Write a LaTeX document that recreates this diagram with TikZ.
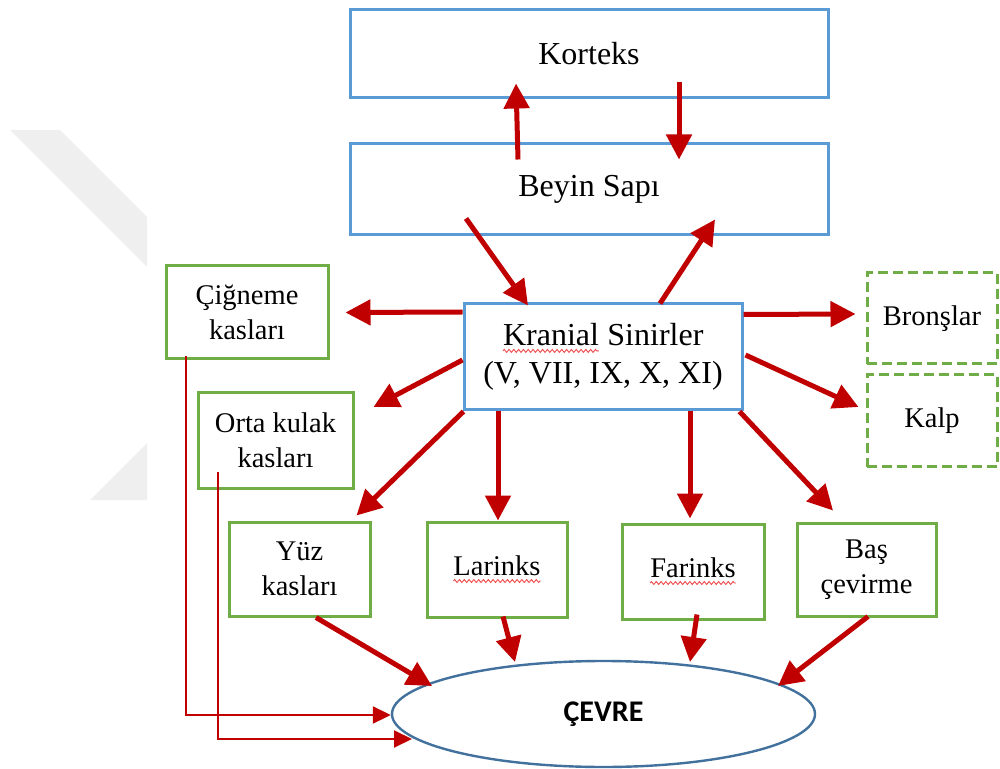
\documentclass[tikz,border=0pt]{standalone}
\usepackage{fontspec}
\setmainfont{Liberation Serif}
\newfontfamily\calibrifont{Carlito}
\usetikzlibrary{arrows.meta,calc,decorations.pathmorphing,shapes.geometric}
\definecolor{boxblue}{HTML}{5B9BD5}
\definecolor{boxgreen}{HTML}{70AD47}
\definecolor{arrred}{HTML}{C00000}
\definecolor{ellblue}{HTML}{41719C}
\definecolor{wmgray}{HTML}{EFEFEF}
\definecolor{spellred}{HTML}{F04A4A}
\newcommand\spellwave[1]{\tikz[baseline=(sw.base)]{\node[inner sep=0pt,outer sep=0pt,minimum width=0pt,minimum height=0pt,draw=none,fill=none](sw){#1};\draw[draw=spellred,solid,line width=0.45pt,decorate,decoration={zigzag,amplitude=0.75pt,segment length=2.4pt}]([yshift=-2.6pt]sw.base west)--([yshift=-2.6pt]sw.base east);}}
\begin{document}
\begin{tikzpicture}[x=0.5pt,y=-0.5pt,
 bluebox/.style={draw=boxblue,line width=1.5pt,fill=white,font=\fontsize{16}{19}\selectfont,align=center,inner sep=0pt},
 greenbox/.style={draw=boxgreen,line width=1.5pt,fill=white,font=\fontsize{14.25}{17.5}\selectfont,align=center,inner sep=0pt},
 dashbox/.style={greenbox,dash pattern=on 5pt off 2.5pt},
 bigarrow/.style={draw=arrred,line width=2.5pt,-{Triangle[length=12.5pt,width=12.5pt]}},
 thinarrow/.style={draw=arrred,line width=1pt,-{Triangle[length=9pt,width=8.5pt]}},
 watermark/.style={fill=wmgray,draw=none}
]
\useasboundingbox (0,0) rectangle (1000,769);
% watermark
\fill[watermark] (10,130) -- (60,130) -- (147,217) -- (147,267) -- cycle;
\fill[watermark] (90,500) -- (147,500) -- (147,443) -- cycle;

% nodes
\node[bluebox,minimum width=239pt,minimum height=44pt] (kor) at (589,54) {Korteks};
\node[bluebox,minimum width=239pt,minimum height=45.5pt] (bey) at (589,189.5) {Beyin Sapı};
\node[bluebox,minimum width=139pt,minimum height=53pt] (kra) at (603,357) {\spellwave{Kranial} Sinirler\\(V, VII, IX, X, XI)};
\node[greenbox,minimum width=81pt,minimum height=46.5pt] (cig) at (247,312.5) {Çiğneme\\kasları};
\node[greenbox,minimum width=77.5pt,minimum height=47.5pt] (ort) at (275.5,440.5) {Orta kulak\\kasları};
\node[greenbox,minimum width=70.5pt,minimum height=47pt] (yuz) at (299.5,569) {Yüz\\kasları};
\node[greenbox,minimum width=70pt,minimum height=47.5pt] (lar) at (497,569.5) {\spellwave{Larinks}};
\node[greenbox,minimum width=71pt,minimum height=47.5pt] (far) at (693,571.5) {\spellwave{Farinks}};
\node[greenbox,minimum width=69.5pt,minimum height=46.5pt] (bas) at (866.5,569.5) {Baş\\çevirme};
\node[dashbox,minimum width=65pt,minimum height=45.5pt] (bro) at (932,318.5) {Bronşlar};
\node[dashbox,minimum width=65pt,minimum height=46pt] (kal) at (932,421) {Kalp};
\node[ellipse,draw=ellblue,line width=1.2pt,fill=white,minimum width=211.5pt,minimum height=53pt,inner sep=0pt,font=\calibrifont\bfseries\fontsize{15}{18}\selectfont] (cev) at (603.5,714) {ÇEVRE};

% connectors
\draw[bigarrow] ($(bey.north)+(-71,17)$) -- ($(kor.south)+(-73,-16)$);
\draw[bigarrow] ($(kor.south)+(90,-17)$) -- ($(bey.north)+(90,17)$);
\draw[bigarrow] ($(bey.south)+(-123,-18)$) -- ($(kra.north)+(-75,3)$);
\draw[bigarrow] ($(kra.north)+(57,1)$) -- ($(bey.south)+(126,-17)$);
\draw[bigarrow] ($(kra.west)+(0,-45)$) -- ($(cig.east)+(16,0)$);
\draw[bigarrow] ($(kra.west)+(0,3)$) -- ($(ort.east)+(19,-33.5)$);
\draw[bigarrow] ($(kra.south west)+(1,0)$) -- ($(yuz.north east)+(-15,-5)$);
\draw[bigarrow] ($(kra.south)+(-105,0)$) -- ($(lar.north)+(1,0)$);
\draw[bigarrow] ($(kra.south)+(87,0)$) -- ($(far.north)+(-3,-4)$);
\draw[bigarrow] ($(kra.south east)+(-4,0)$) -- ($(bas.north)+(-33.5,-11)$);
\draw[bigarrow] ($(kra.north east)+(0,12)$) -- ($(bro.west)+(-10,-4.5)$);
\draw[bigarrow] ($(kra.east)+(2,-2)$) -- ($(kal.west)+(-7,-14)$);
\draw[bigarrow] ($(yuz.south)+(16.5,0)$) -- ($(cev.center)+(-171.5,-28)$);
\draw[bigarrow] ($(lar.south)+(6,-2)$) -- ($(cev.center)+(-88.5,-52)$);
\draw[bigarrow] ($(far.south)+(4,-6)$) -- ($(cev.center)+(86.5,-52)$);
\draw[bigarrow] ($(bas.south)+(1.5,-1)$) -- ($(cev.center)+(174.5,-28)$);
\draw[thinarrow] ($(cig.south west)+(21,-4)$) |- ($(cev.west)+(0,1)$);
\draw[thinarrow] ($(ort.south west)+(21,-17)$) |- ($(cev.center)+(-191.5,25)$);
\end{tikzpicture}
\end{document}
